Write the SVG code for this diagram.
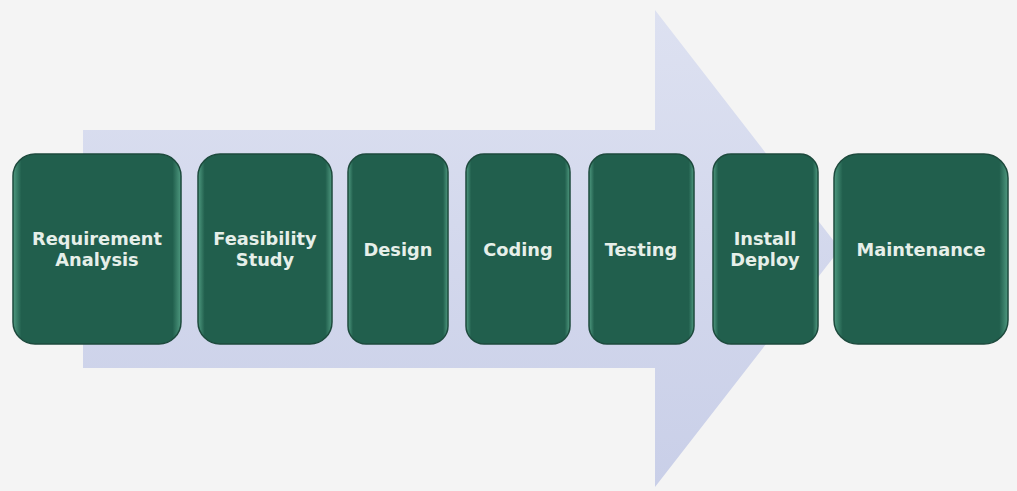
<svg xmlns="http://www.w3.org/2000/svg" width="1017" height="491" viewBox="0 0 1017 491">
<style>
.box{fill:url(#boxg);stroke:#1d4a3d;stroke-width:1.5}
.lbl{font-family:"DejaVu Sans",sans-serif;font-weight:bold;font-size:17.8px;fill:#e6efe9;text-anchor:middle}
</style>
<defs>
<linearGradient id="arrowg" x1="0" y1="0" x2="0" y2="1">
<stop offset="0" stop-color="#dde1f1"/>
<stop offset="1" stop-color="#c9cfe8"/>
</linearGradient>
<linearGradient id="boxg" x1="0" y1="0" x2="1" y2="0">
<stop offset="0" stop-color="#4f9a80"/>
<stop offset="0.05" stop-color="#215f4d"/>
<stop offset="0.95" stop-color="#215f4d"/>
<stop offset="1" stop-color="#4f9a80"/>
</linearGradient>
</defs>
<rect width="1017" height="491" fill="#f4f4f4"/>
<g id="arrow">
<polygon points="83,130 655,130 655,10 840,249 655,487 655,368 83,368" fill="url(#arrowg)"/>
</g>
<g id="connectors"></g>
<g id="n1"><rect class="box" x="13" y="154" width="168" height="190" rx="22"/><text class="lbl" x="97" y="245">Requirement</text><text class="lbl" x="97" y="266">Analysis</text></g>
<g id="n2"><rect class="box" x="198" y="154" width="134" height="190" rx="22"/><text class="lbl" x="265" y="245">Feasibility</text><text class="lbl" x="265" y="266">Study</text></g>
<g id="n3"><rect class="box" x="348" y="154" width="100" height="190" rx="18"/><text class="lbl" x="398" y="256">Design</text></g>
<g id="n4"><rect class="box" x="466" y="154" width="104" height="190" rx="18"/><text class="lbl" x="518" y="256">Coding</text></g>
<g id="n5"><rect class="box" x="589" y="154" width="105" height="190" rx="18"/><text class="lbl" x="641" y="256">Testing</text></g>
<g id="n6"><rect class="box" x="713" y="154" width="105" height="190" rx="18"/><text class="lbl" x="765" y="245">Install</text><text class="lbl" x="765" y="266">Deploy</text></g>
<g id="n7"><rect class="box" x="834" y="154" width="174" height="190" rx="24"/><text class="lbl" x="921" y="256">Maintenance</text></g>
</svg>
